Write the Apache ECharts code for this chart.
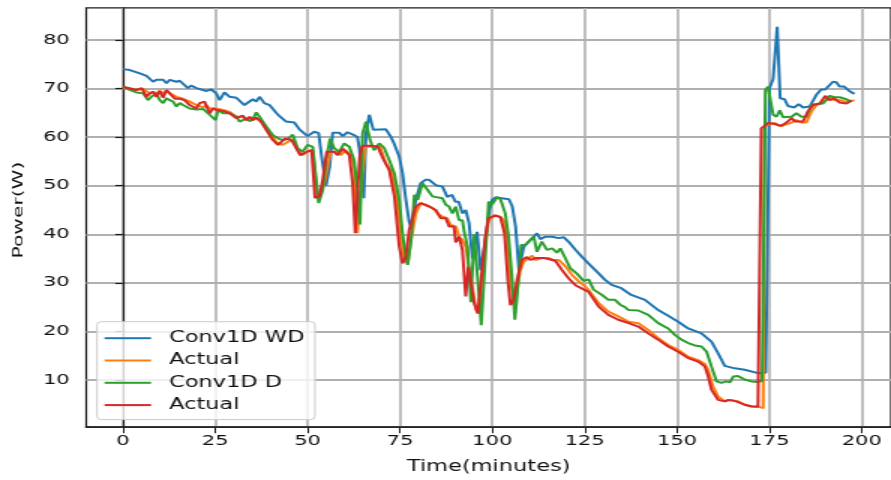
<!DOCTYPE html>
<html>
<head>
<meta charset="utf-8">
<script src="https://cdn.jsdelivr.net/npm/echarts@6/dist/echarts.min.js"></script>
<style>
html,body{margin:0;padding:0;background:#fff;overflow:hidden;width:891px;height:480px;}
#c{width:594px;height:480px;transform:scaleX(1.5);transform-origin:0 0;}
</style>
</head>
<body>
<div id="c"></div>
<script>
// ---- data ----
const xTicks = [0, 25, 50, 75, 100, 125, 150, 175, 200];
const yTicks = [10, 20, 30, 40, 50, 60, 70, 80];
const seriesNames = ['Conv1D WD', 'Actual', 'Conv1D D', 'Actual '];

const wdTime = [0,1.9,4.6,6.4,8.2,9.1,10.9,11.8,12.7,14.5,15.4,17.6,18.5,19.9,22.6,23.9,25.3,26.2,27.5,28.9,30.7,32.9,35.2,36.1,37,38.3,39.7,41.5,42.4,44.2,46.4,47.8,50,51.8,53,53.8,55,56,56.8,58.6,59.5,60.8,62.6,63.5,64,65.2,65.8,66.7,67.8,71.2,72.5,73.4,74.8,75.7,76.6,77.5,78,79.3,80.6,81.9,82.9,84.7,86.5,87.8,89.1,90,90.9,91.9,92.8,93.7,94.6,95.9,96.8,98,99.2,100,100.9,102.6,104.5,105.4,106.3,107.2,108.5,109.9,111.2,112.1,113,114.4,116.2,117.9,119.3,120.6,122.5,124.2,126,128.7,130.5,132.3,134.9,137.6,141.3,144.9,147.6,150.3,153,156.6,159.3,161.1,162.9,165.6,168.3,171.9,174,175,176,177.1,177.9,179.1,180,181.8,182.9,184.1,185.9,187.7,189,190.1,192.2,193.1,194,195.2,196.6,198];
const wdPower = [74,73.8,73.1,72.6,71.4,71.8,71.8,71.1,71.8,71.4,71.6,70.1,70.6,70.1,69.5,69.8,69.0,67.6,69.2,68.3,68.1,66.6,67.8,67.3,68.3,67.0,66.6,65.0,64.3,63.2,63.0,61.6,60.2,61.1,60.8,56,50,54,60.9,60.9,60.2,61.0,60.4,60.0,57.7,47.4,60.8,64.6,61.5,61.6,60.1,58.7,56.0,52.6,47.1,42.5,41.5,47.1,50.5,51.2,51.2,50.1,49.8,47.7,48.1,46.7,46.7,44.3,45.0,42.3,35,40.5,32.6,38,45,47.1,47.6,47.4,47.2,45.7,41.6,32.6,37.4,38.5,39.5,40.2,39.0,39.5,39.5,39.2,39.4,38.5,36.8,35.4,34.0,32.0,30.6,29.6,28.9,27.5,26.5,24.4,23.2,22.0,20.6,19.6,17.9,15.5,12.9,12.4,12.1,11.4,11.5,70,72,82.7,68,67.8,66.4,66.1,66.8,66.1,66.3,68.7,69.8,69.8,71.4,71.3,70.4,70.4,69.5,68.9];

const actualWdTime = [0,1.9,3.7,5.5,7.3,8.2,9.1,10,10.9,11.8,12.7,14.5,16.3,18.1,19.9,21.7,22.6,23.5,25.3,27.1,28.9,30.7,32.5,33.4,34.3,36.1,37.9,39.7,41.5,43.3,44.6,46,47.3,48.7,50,51.4,52.8,53.6,54.5,55.4,56.3,57.6,59,60.3,61.7,62.6,63.5,64.1,64.8,65.7,66.7,68.5,69.6,71.2,72.5,73.9,75.2,76.2,77.1,78,79.3,80.6,82,83.8,85.6,86.5,87.8,88.7,90.1,91,91.9,92.8,93.7,94.6,95.6,96.3,97.2,98.1,99,100.8,102.2,103.1,104,104.9,105.8,106.7,107.6,108.5,109.9,110.8,111.6,113.4,115.3,116.6,118,119.8,121.6,123.4,125.2,126.1,128.8,131.4,134.1,136.9,139.5,142.2,144.9,147.6,150.3,153,155.7,157.5,158.4,159.7,161.1,162.9,164.7,166.5,168.3,170.1,171.9,173.3,173.7,175,176.4,177.8,179.1,181,182.3,183.7,185,186.4,187.7,189,190.4,191.3,192.6,194,195.4,196.7,198];
const actualWdPower = [70,70,69.7,69.9,69,69.3,69,69.5,69,69.5,69,68.3,67.9,67.3,66.6,66.1,66.6,65.9,65.9,65.6,65.2,64.2,64.2,63.5,64,63.9,62.9,61,59,58.4,59,59.4,57.3,56.3,57,57.3,47.8,48.5,50.5,53.9,57,57,56.3,57.3,56.3,53.9,40.2,40.2,52.5,58,58,58.2,58,54.6,53.2,49.1,40.2,34.7,34,38.8,44.3,46.4,46.1,45.4,44,43.6,43.3,41.9,41.6,39.5,38.8,37.4,32.6,29.2,24.4,23.7,30.6,38.2,42.9,43.9,43.6,42.9,39.5,30.6,25.8,28.5,32.6,34.4,35.1,35.6,34.7,35.1,35.1,34.7,34.7,33.4,31.6,30.3,29.2,28.5,25.8,24.1,23.1,22,21.7,20.3,18.6,17.2,16.2,14.8,14.1,13.3,12.1,8.7,6.6,5.6,5.9,5.6,4.9,4.5,4.5,4.2,62.2,62.7,62.9,62.3,62.5,63,63.5,63,63,65.3,66.6,66.9,67.6,68.2,67.6,67.6,67.3,67.4,67.6];

const dTime = [0,1.9,3.7,5.5,6.8,7.7,9.1,10,10.9,11.8,12.7,13.6,14.5,15.4,16.3,18.1,19.9,21.7,23.5,25.1,25.8,27.1,28.9,30.7,31.6,32.5,33.4,34.3,35.2,36.1,37,37.9,38.8,40.6,42.4,43.3,44.6,46,47.3,48.7,50,51.4,52.3,53,54.1,55,56.1,57.2,58.6,59.9,61.3,62.6,63.5,64.2,64.9,65.8,66.4,66.9,68,69.4,70.7,72.1,73.5,74.8,75.7,76.6,77.1,78,78.9,79.8,81.1,82.5,83.8,86.5,87.4,88.3,89.2,90.1,91,91.9,92.4,93.3,94.2,95.1,97,97.9,99,99.9,101.3,102.2,103.5,104.4,105.3,106.1,106.7,107.8,108.9,111.2,112.1,113.4,114.8,116.2,117.5,118.4,119.8,121.1,122.9,124.7,126.1,127.4,129.7,131.4,133.2,134.6,135.9,136.9,139.5,142.2,144.9,147.6,149.4,151.2,153,154.8,156.6,158,159.3,160.7,162,163.3,164.3,165.2,166.5,168.3,170.1,171.9,173,173.9,174.6,175.3,176,176.9,177.8,178.7,181,182.3,183.7,185,186.4,188.2,189.5,191.3,192.6,194,195.8,197.2];
const dPower = [70.4,69.7,69.2,69,67.6,68.3,69,67.6,67,68,67.6,67.3,66.3,67,66.6,65.9,65.7,65.8,64.6,63.5,65.6,64.9,64.9,64.2,63.2,63.5,63.9,63.3,63.6,65.1,64.2,63.2,62.2,60.4,59.6,59.4,59.6,60.5,57.7,57,58.4,58,51.2,46.4,49.1,55.3,59.7,57.7,57,58.7,58,55.3,49.1,42,60.8,63.2,63.5,59.4,57.3,58.7,57.8,55.3,52.5,47.1,40.2,35.4,33.7,38.8,48.1,47.1,50.5,49.1,47.8,47.4,46.1,45.7,44.3,45.7,42.9,42.9,40.5,37.4,26,40,21.3,32.6,46.7,46.1,47.6,47.2,44.3,39.5,31.3,22.4,27.2,37.8,37.8,39.5,36.4,38.5,36.8,37.1,36.2,37.1,35,33,31.9,30.4,30.7,28.6,27.5,26.5,26.5,25.5,25,24.4,24.3,23.4,21.7,20.6,19.3,18.3,17.6,17.1,16.9,15.8,12.8,9.7,9.4,9.7,9.5,10.7,10.8,10.1,9.7,9.6,9.8,69.7,70.4,70.7,64.6,64.2,65.5,64.1,64.2,64.9,64.2,64.2,66.6,66.9,66.9,68.5,68.2,68.2,67.8,67.3];

const actualDTime = [0,1.5,3.7,5.1,6.4,7.3,8.2,9.1,10,10.9,11.8,12.7,14.1,15.4,16.7,18.1,19.9,20.8,22.1,23.5,24.4,25.3,27.1,28.9,30.7,32.5,33.4,34.3,35.2,36.1,37.4,38.8,40.6,42,43.9,45.7,48,49.8,51.1,52,53.2,54.1,55.2,57.2,58.1,59.6,61.3,62.2,62.9,63.5,64.1,64.8,67,69,70.4,72.1,73.5,74.8,75.7,76.6,77.5,79.3,80.6,82.9,84.7,86,87.4,88.3,89.6,90.1,91,91.9,92.8,93.5,94.2,95.1,96.1,97.2,98.1,99,100.8,102.2,103.3,104.2,104.9,105.8,106.7,108,109.4,110.3,111.6,113.9,115.7,117.1,118.9,120.7,122.5,124.3,126.1,128.8,131.4,134.1,136.9,139.5,142.2,144.9,147.6,150.3,153,155.7,157.5,158.4,159.3,161.1,162.9,163.8,166,168.3,170.1,171.9,172.4,172.8,174.6,176.4,178.1,179.6,181,182,184.1,185.4,186.8,188.6,190.1,191.3,192.6,194,195.8,197.2];
const actualDPower = [70.4,70.1,69.7,70.1,68.3,69,69.3,68.3,69.5,68.1,69.7,69,67.9,67.9,67.6,66.6,65.9,67,67.3,64.9,65.9,65.6,65.4,64.9,63.9,64.4,63.5,64.2,63.5,64,63.2,61.5,59.4,58.4,59.7,59.4,56.3,57,57.3,47.5,47.8,51.2,57,57,56.3,57.6,56.3,50.5,40.2,40.2,56,58.2,58.2,58,55.6,53.2,47.8,37.5,34,35.4,40.9,45.7,46.4,45.7,45,43.3,43.3,41.6,41.6,38.3,39.5,36.8,27.2,33.3,33.3,25.8,23.7,32.6,39.5,43.3,43.9,43.5,40.2,30.6,25.4,26.5,30.6,34.7,35.3,34.7,35.1,35.1,34.8,34.5,32.6,30.9,29.5,28.8,28.1,25.1,23.4,22.4,21.7,21,19.6,18.3,16.9,15.8,14.5,13.8,12.8,10.8,8,5.9,5.6,5.9,5.6,4.9,4.6,4.5,4.4,61.8,62.9,62.7,62.3,63,63.9,63.2,63.2,65.3,66.6,66.9,68.5,67.6,68,67.1,66.9,67.5];

const colors = ['#1f77b4', '#ff7f0e', '#2ca02c', '#d62728'];

function pairs(ts, vs) { return ts.map((t, i) => [t, vs[i]]); }

const chart = echarts.init(document.getElementById('c'), null, {renderer: 'canvas'});
const font = 'DejaVu Sans';
const seriesData = [pairs(wdTime, wdPower), pairs(actualWdTime, actualWdPower), pairs(dTime, dPower), pairs(actualDTime, actualDPower)];

chart.setOption({
  animation: false,
  backgroundColor: '#ffffff',
  grid: {left: 57.5, top: 7.9, width: 538, height: 419.3, show: true, borderColor: '#1a1a1a', borderWidth: 1.2, backgroundColor: 'transparent'},
  xAxis: {
    type: 'value', min: -9.9, max: 207.9,
    name: 'Time(minutes)', nameLocation: 'middle', nameGap: 32,
    nameTextStyle: {fontFamily: font, fontSize: 15, color: '#111'},
    axisLine: {show: true, onZero: false, lineStyle: {color: '#1a1a1a', width: 1.6}},
    axisTick: {show: true, length: 6, customValues: xTicks, lineStyle: {color: '#1a1a1a', width: 1}},
    axisLabel: {customValues: xTicks, margin: 7, fontFamily: font, fontSize: 14, color: '#111'},
    splitLine: {show: true, lineStyle: {color: '#b0b0b0', width: 1.6}}
  },
  yAxis: {
    type: 'value', min: 0.28, max: 86.6,
    axisLine: {show: true, lineStyle: {color: '#1a1a1a', width: 1.2}},
    axisTick: {show: true, length: 5, customValues: yTicks, lineStyle: {color: '#1a1a1a', width: 1.2}},
    axisLabel: {customValues: yTicks, margin: 11, fontFamily: font, fontSize: 14, color: '#111'},
    splitLine: {show: true, lineStyle: {color: '#b0b0b0', width: 1.8}}
  },
  legend: {
    left: 64.7, top: 321.7, orient: 'vertical',
    data: seriesNames,
    icon: 'rect',
    itemWidth: 31, itemHeight: 2, itemGap: 7.3,
    padding: [9, 7, 7, 5],
    backgroundColor: 'rgba(255,255,255,0.8)', borderColor: '#cccccc', borderWidth: 1, borderRadius: 3,
    formatter: n => '{a|' + n + '}',
    textStyle: {fontFamily: font, fontSize: 15, color: '#111', rich: {a: {fontFamily: font, fontSize: 15, lineHeight: 16, color: '#111', padding: [0, 0, 0, 7]}}}
  },
  graphic: [{
    type: 'text', x: 12.2, y: 210, rotation: Math.PI / 2, scaleX: 1.35, scaleY: 0.6,
    style: {text: 'Power(W)', font: '15px DejaVu Sans', fontSize: 15, fontFamily: font, fill: '#111', align: 'center', verticalAlign: 'middle', textAlign: 'center', textVerticalAlign: 'middle'}
  }],
  series: seriesNames.map((n, i) => ({
    name: n, type: 'line', data: seriesData[i], symbol: 'none', showSymbol: false,
    lineStyle: {color: colors[i], width: 2}, itemStyle: {color: colors[i]}, z: 3 + i
  }))
});
</script>
</body>
</html>
